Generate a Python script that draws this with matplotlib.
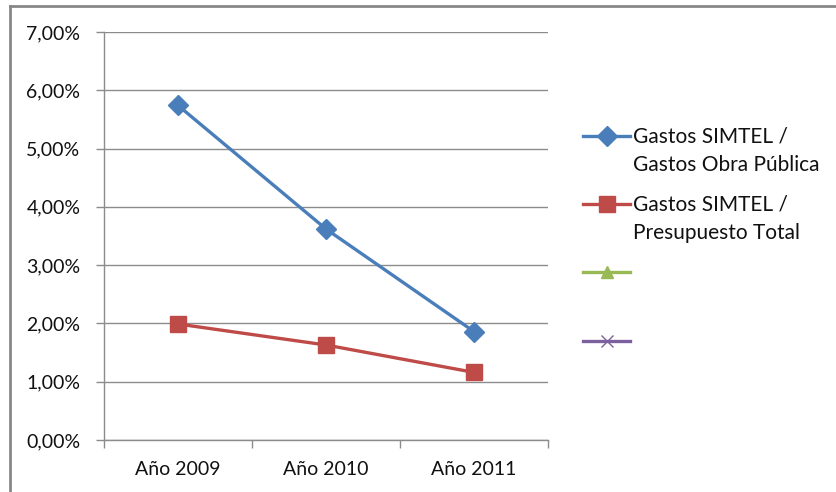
import matplotlib
matplotlib.use('Agg')
import matplotlib.pyplot as plt
from matplotlib.lines import Line2D
from matplotlib.ticker import FuncFormatter, FixedLocator, NullFormatter

plt.rcParams['font.family'] = ['Lato', 'DejaVu Sans']

# datos
anios = ['Año 2009', 'Año 2010', 'Año 2011']
obra_publica = [5.74, 3.62, 1.86]
presupuesto_total = [1.99, 1.63, 1.16]
serie3 = []
serie4 = []
etiquetas = ['Gastos SIMTEL /\nGastos Obra Pública', 'Gastos SIMTEL /\nPresupuesto Total', '', '']

azul = '#4A7EBB'
rojo = '#BE4B48'
verde = '#98B954'
morado = '#7D60A0'
gris = '#8c8c8c'
texto = '#111111'

W, H = 836, 492
fig = plt.figure(figsize=(W / 100, H / 100), dpi=100)
ax = fig.add_axes([104 / W, 1 - 440 / H, 444 / W, 408 / H])

x = list(range(len(anios)))
ax.plot(x, obra_publica, color=azul, lw=2.4, marker='D', ms=10, zorder=3)
ax.plot(x, presupuesto_total, color=rojo, lw=2.4, marker='s', ms=12, zorder=3)
ax.plot(serie3, serie3, color=verde, lw=2.4, marker='^', ms=8)
ax.plot(serie4, serie4, color=morado, lw=2.4, marker='x', ms=8)

ax.set_xlim(-0.5, 2.5)
ax.set_ylim(0, 7)
ax.set_yticks(range(0, 8))
ax.yaxis.set_major_formatter(FuncFormatter(lambda v, p: f'{v:.2f}%'.replace('.', ',')))
ax.yaxis.grid(True, color=gris, lw=1)
ax.set_axisbelow(True)

# marcas del eje x entre categorias
ax.xaxis.set_major_locator(FixedLocator([-0.5, 0.5, 1.5, 2.5]))
ax.xaxis.set_major_formatter(NullFormatter())
ax.xaxis.set_minor_locator(FixedLocator(x))
ax.set_xticklabels(anios, minor=True)
ax.tick_params(axis='x', which='minor', length=0, pad=15, labelsize=14, labelcolor=texto)
ax.tick_params(axis='x', which='major', length=6, color=gris, width=1)
ax.tick_params(axis='y', length=6, color=gris, width=1, pad=11, labelsize=14, labelcolor=texto)

for s in ['top', 'right']:
    ax.spines[s].set_visible(False)
for s in ['left', 'bottom']:
    ax.spines[s].set_color(gris)
    ax.spines[s].set_linewidth(1)

# leyenda a mano
colores = [azul, rojo, verde, morado]
marcadores = [('D', 10), ('s', 12), ('^', 9), ('x', 9)]
ys = [136, 204, 272, 341]
for c, (m, s), y, t in zip(colores, marcadores, ys, etiquetas):
    fy = 1 - y / H
    fig.add_artist(Line2D([583 / W, 630 / W], [fy, fy], color=c, lw=2.4))
    fig.add_artist(Line2D([606.5 / W], [fy], color=c, marker=m, ms=s, lw=0))
    if t:
        fig.text(633 / W, fy + 9 / H, t, fontsize=15, color=texto, va='top',
                 ha='left', linespacing=1.5)

# borde del grafico
fig.add_artist(Line2D([10 / W, 10 / W], [0, 1 - 6 / H], color='#878787', lw=2))
fig.add_artist(Line2D([10 / W, 1], [1 - 6 / H, 1 - 6 / H], color='#878787', lw=2))

fig.savefig('out.png', dpi=100)
